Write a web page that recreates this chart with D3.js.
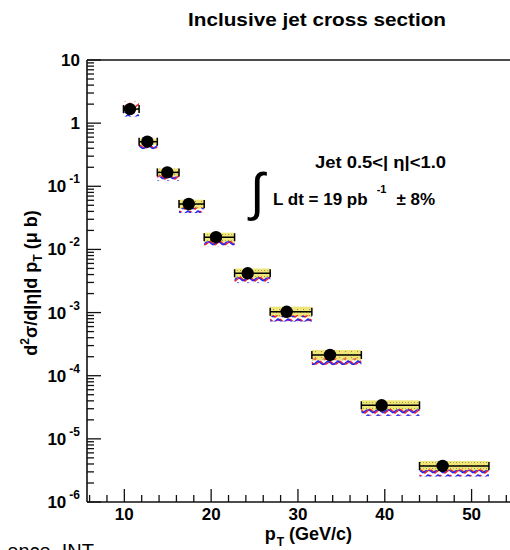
<!DOCTYPE html>
<html><head><meta charset="utf-8">
<script src="https://cdn.jsdelivr.net/npm/d3@7"></script>
<style>
html,body{margin:0;padding:0;background:#fff;}
svg{display:block;}
text{font-family:"Liberation Sans",Arial,Helvetica,sans-serif;fill:#000;}
</style></head><body>
<svg id="chart" width="510" height="550"></svg>
<script>
// pT bins (GeV/c)
const binLo  = [9.9, 11.7, 13.8, 16.3, 19.2, 22.7, 26.8, 31.6, 37.3, 44.0];
const binHi  = [11.7, 13.8, 16.3, 19.2, 22.7, 26.8, 31.6, 37.3, 44.0, 52.0];
// mean pT of each bin
const ptMean = [10.65, 12.65, 14.95, 17.42, 20.56, 24.21, 28.7, 33.69, 39.64, 46.66];
// d2sigma/d|eta|dpT (microbarn)
const xsec   = [1.67, 0.508, 0.166, 0.0524, 0.0156, 0.00419, 0.00103, 2.13e-4, 3.40e-5, 3.72e-6];
// systematic band (multiplicative factors)
const sysLo  = [0.95, 0.90, 0.86, 0.84, 0.83, 0.83, 0.82, 0.82, 0.82, 0.82];
const sysHi  = [1.05, 1.12, 1.15, 1.17, 1.18, 1.19, 1.20, 1.20, 1.20, 1.20];
// additional uncertainty bands (multiplicative factors)
const redLo  = [1.04, 0.78, 0.74, 0.74, 0.74, 0.72, 0.71, 0.70, 0.69, 0.69];
const redHi  = [1.32, 0.92, 0.90, 0.88, 0.88, 0.88, 0.88, 0.88, 0.88, 0.88];
const blueLo = [0.76, 0.76, 0.73, 0.72, 0.72, 0.70, 0.70, 0.69, 0.68, 0.68];
const blueHi = [0.90, 0.88, 0.86, 0.86, 0.86, 0.86, 0.86, 0.86, 0.86, 0.86];
// axis ticks
const yTickExp   = [1, 0, -1, -2, -3, -4, -5, -6];
const xTickMajor = [10, 20, 30, 40, 50];

const svg = d3.select("#chart");
const x = d3.scaleLinear().domain([5.7, 55]).range([87, 515]);
const y = d3.scaleLog().domain([1e-6, 10]).range([502, 60]);

// fill patterns
const defs = svg.append("defs");
const py = defs.append("pattern").attr("id","yel").attr("patternUnits","userSpaceOnUse")
  .attr("width",6).attr("height",6);
py.append("rect").attr("width",6).attr("height",6).attr("fill","#efe67a");
py.append("rect").attr("x",0).attr("y",0).attr("width",1).attr("height",1).attr("fill","#9a9040");
py.append("rect").attr("x",3).attr("y",3).attr("width",1).attr("height",1).attr("fill","#c08040");
py.append("rect").attr("x",3).attr("y",0).attr("width",1).attr("height",1).attr("fill","#b8b060");
const pr = defs.append("pattern").attr("id","red").attr("patternUnits","userSpaceOnUse")
  .attr("width",10).attr("height",6);
pr.append("path").attr("d","M0,1 L5,5 L10,1").attr("fill","none").attr("stroke","#ff1a1a").attr("stroke-width",1.4);
const pb = defs.append("pattern").attr("id","blue").attr("patternUnits","userSpaceOnUse")
  .attr("width",10).attr("height",6).attr("x",3);
pb.append("path").attr("d","M0,5 L5,1 L10,5").attr("fill","none").attr("stroke","#1a28ff").attr("stroke-width",1.4);

const idx = d3.range(xsec.length);
const pts = svg.append("g");

// bands
pts.selectAll("rect.sys").data(idx).join("rect").attr("class","sys")
  .attr("x", i => x(binLo[i])).attr("width", i => x(binHi[i]) - x(binLo[i]))
  .attr("y", i => y(xsec[i]*sysHi[i])).attr("height", i => y(xsec[i]*sysLo[i]) - y(xsec[i]*sysHi[i]))
  .attr("fill","url(#yel)");
pts.selectAll("rect.red").data(idx).join("rect").attr("class","red")
  .attr("x", i => x(binLo[i])).attr("width", i => x(binHi[i]) - x(binLo[i]))
  .attr("y", i => y(xsec[i]*redHi[i])).attr("height", i => y(xsec[i]*redLo[i]) - y(xsec[i]*redHi[i]))
  .attr("fill","url(#red)");
pts.selectAll("rect.blue").data(idx).join("rect").attr("class","blue")
  .attr("x", i => x(binLo[i])).attr("width", i => x(binHi[i]) - x(binLo[i]))
  .attr("y", i => y(xsec[i]*blueHi[i])).attr("height", i => y(xsec[i]*blueLo[i]) - y(xsec[i]*blueHi[i]))
  .attr("fill","url(#blue)");

// horizontal bin-width bars with end caps
pts.selectAll("line.eb").data(idx).join("line").attr("class","eb")
  .attr("x1", i => x(binLo[i])).attr("x2", i => x(binHi[i]))
  .attr("y1", i => y(xsec[i])).attr("y2", i => y(xsec[i]))
  .attr("stroke","#000").attr("stroke-width",1.5);
["lo","hi"].forEach(side => {
  pts.selectAll("line.cap"+side).data(idx).join("line").attr("class","cap"+side)
    .attr("x1", i => x(side==="lo"?binLo[i]:binHi[i])).attr("x2", i => x(side==="lo"?binLo[i]:binHi[i]))
    .attr("y1", i => y(xsec[i]) - 4).attr("y2", i => y(xsec[i]) + 4)
    .attr("stroke","#000").attr("stroke-width",1.5);
});
pts.selectAll("circle").data(idx).join("circle")
  .attr("cx", i => x(ptMean[i])).attr("cy", i => y(xsec[i])).attr("r",6.2).attr("fill","#000");

// frame
const ax = svg.append("g").attr("stroke","#111").attr("stroke-width",1.6).attr("fill","none");
ax.append("line").attr("x1",x.range()[0]).attr("x2",x.range()[0]).attr("y1",y.range()[1]).attr("y2",y.range()[0]);
ax.append("line").attr("x1",x.range()[0]).attr("x2",x.range()[1]).attr("y1",y.range()[0]).attr("y2",y.range()[0]);
ax.append("line").attr("x1",x.range()[0]).attr("x2",x.range()[1]).attr("y1",y.range()[1]).attr("y2",y.range()[1]);

// y ticks (inside, pointing right)
const x0 = x.range()[0];
const yMinor = [];
yTickExp.slice(1).forEach(e => { for (let m = 2; m <= 9; m++) yMinor.push(m*Math.pow(10,e)); });
const tk = svg.append("g").attr("stroke","#111").attr("stroke-width",1.3);
tk.selectAll("line.ymaj").data(yTickExp).join("line").attr("class","ymaj")
  .attr("x1",x0).attr("x2",x0+14).attr("y1",e=>y(Math.pow(10,e))).attr("y2",e=>y(Math.pow(10,e)));
tk.selectAll("line.ymin").data(yMinor).join("line").attr("class","ymin")
  .attr("x1",x0).attr("x2",x0+7).attr("y1",v=>y(v)).attr("y2",v=>y(v));
// x ticks (inside, pointing up)
const y0 = y.range()[0];
const xMinor = d3.range(6, 55, 2).filter(v => v % 10 !== 0);
tk.selectAll("line.xmaj").data(xTickMajor).join("line").attr("class","xmaj")
  .attr("x1",v=>x(v)).attr("x2",v=>x(v)).attr("y1",y0).attr("y2",y0-13);
tk.selectAll("line.xmin").data(xMinor).join("line").attr("class","xmin")
  .attr("x1",v=>x(v)).attr("x2",v=>x(v)).attr("y1",y0).attr("y2",y0-7);

// y tick labels
const yl = svg.append("g").attr("font-weight","bold").attr("font-size",17);
yTickExp.forEach(e => {
  const t = yl.append("text").attr("x",80).attr("y",y(Math.pow(10,e))+6).attr("text-anchor","end");
  if (e === 0) t.text("1");
  else if (e === 1) t.text("10");
  else {
    t.append("tspan").text("10");
    t.append("tspan").attr("font-size",12).attr("dx",3).attr("dy",-9).text(String(e));
  }
});
// x tick labels
svg.append("g").attr("font-weight","bold").attr("font-size",17)
  .selectAll("text").data(xTickMajor).join("text")
  .attr("x",v=>x(v)).attr("y",520).attr("text-anchor","middle").text(v=>v);

// title
svg.append("text").attr("x",188).attr("y",26).attr("font-weight","bold").attr("font-size",18)
  .attr("textLength",258).attr("lengthAdjust","spacingAndGlyphs").text("Inclusive jet cross section");

// axis titles
const xt = svg.append("text").attr("x",352).attr("y",540).attr("text-anchor","end")
  .attr("font-weight","bold").attr("font-size",18);
xt.append("tspan").text("p");
xt.append("tspan").attr("font-size",12).attr("dy",6).attr("dx",1).text("T");
xt.append("tspan").attr("dy",-6).text(" (GeV/c)");

const ytl = svg.append("text").attr("transform","translate(37,283) rotate(-90)").attr("text-anchor","middle")
  .attr("font-weight","bold").attr("font-size",18);
ytl.append("tspan").text("d");
ytl.append("tspan").attr("font-size",12).attr("dy",-8).text("2");
ytl.append("tspan").attr("dy",8).text("σ/d|η|d p");
ytl.append("tspan").attr("font-size",12).attr("dy",5).text("T");
ytl.append("tspan").attr("dy",-5).text(" (μ b)");

// annotations
svg.append("text").attr("x",315).attr("y",168).attr("font-weight","bold").attr("font-size",16)
  .attr("textLength",131).attr("lengthAdjust","spacingAndGlyphs").text("Jet 0.5<| η|<1.0");
svg.append("text").attr("x",250).attr("y",210).attr("font-size",52).attr("font-family","Liberation Serif")
  .text("∫");
const lum = svg.append("text").attr("x",273).attr("y",205).attr("font-weight","bold").attr("font-size",17);
lum.append("tspan").text("L dt  = 19 pb");
lum.append("tspan").attr("font-size",11).attr("dx",9).attr("dy",-12).text("-1");
lum.append("tspan").attr("dx",10).attr("dy",12).text("± 8%");

// footer text
svg.append("text").attr("x",94).attr("y",558).attr("text-anchor","end").attr("font-size",20)
  .text("ence. INT");
</script>
</body></html>
